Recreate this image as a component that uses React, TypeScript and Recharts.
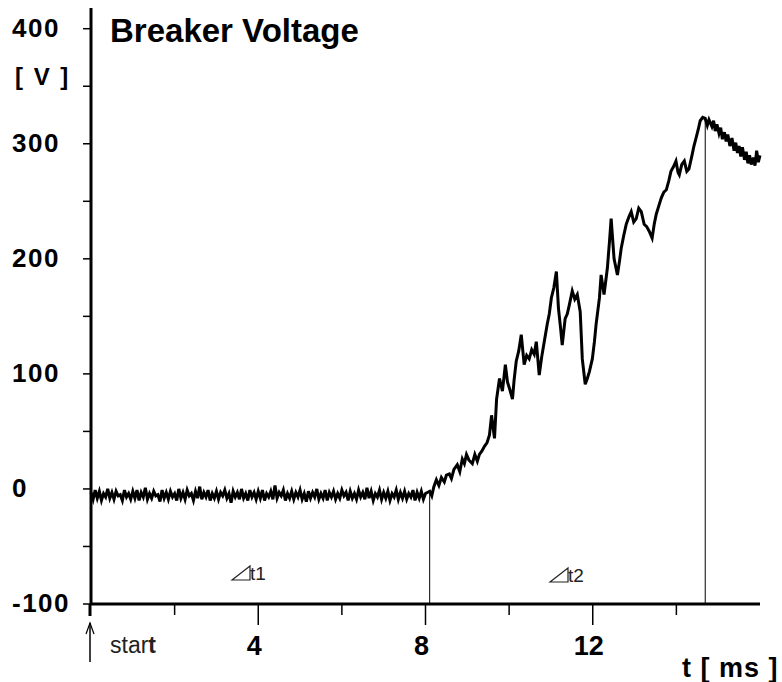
import { LineChart, Line, XAxis, YAxis, ReferenceLine } from 'recharts';

// baseline noise before the breaker opens, one sample every 0.05 ms from t = 0
const flatVolts = [
  -3, -9, -1, -8, -2, -10, -4, -7, 0, -8, -3, -9, -2, -6, -5, -10, -1, -7, -4, -9,
  -2, -8, -1, -10, -3, -7, 1, -9, -4, -8, -2, -6, -5, -11, -1, -8, -3, -9, -2, -7,
  -4, -10, 0, -8, -3, -9, -1, -6, -4, -10, -2, -8, 2, -9, -3, -7, -1, -10, -4, -8,
  -2, -9, -3, -6, -1, -8, -4, -12, -2, -7, -3, -9, 0, -8, -4, -10, -1, -7, -3, -9,
  -2, -8, -1, -10, -4, -7, -2, -9, 3, -8, -3, -6, -1, -10, -4, -8, -2, -9, -3, -7,
  -1, -9, -4, -11, -2, -8, -3, -7, 0, -9, -4, -8, -1, -10, -3, -7, -2, -9, -4, -8,
  -1, -6, -3, -10, -2, -8, -4, -9, -1, -7, -3, -9, 1, -8, -2, -10, -4, -7, -1, -9,
  -3, -8, -2, -10, -4, -7, -1, -9, -3, -8, -2, -9, -4, -7, -1, -10, -3, -8, -2, -9,
  -4,
];

// rising part of the trace: [t ms, volts]
const riseTrace: [number, number][] = [
  [8.1, -2], [8.15, -6], [8.2, 2], [8.26, 8], [8.32, 3], [8.38, 10], [8.45, 6], [8.5, 12],
  [8.57, 13], [8.62, 9], [8.68, 17], [8.76, 21], [8.82, 15], [8.88, 26], [8.93, 22], [8.98, 30],
  [9.04, 25], [9.12, 22], [9.18, 30], [9.24, 24], [9.29, 30], [9.35, 33], [9.41, 37], [9.47, 40],
  [9.53, 47], [9.58, 64], [9.65, 44], [9.7, 78], [9.77, 96], [9.84, 85], [9.91, 108], [9.96, 93],
  [10.02, 86], [10.08, 78], [10.12, 95], [10.17, 111], [10.23, 120], [10.29, 134], [10.36, 108],
  [10.42, 116], [10.48, 113], [10.54, 121], [10.6, 117], [10.65, 128], [10.72, 99], [10.78, 115],
  [10.84, 128], [10.91, 143], [10.96, 152], [11.01, 166], [11.07, 175], [11.13, 189], [11.18, 157],
  [11.23, 140], [11.27, 125], [11.34, 148], [11.39, 152], [11.44, 160], [11.51, 172], [11.57, 165],
  [11.63, 169], [11.7, 154], [11.75, 113], [11.82, 91], [11.87, 96], [11.92, 102], [11.99, 113],
  [12.04, 128], [12.08, 143], [12.16, 166], [12.2, 186], [12.27, 169], [12.35, 192], [12.4, 215],
  [12.44, 235], [12.51, 200], [12.59, 186], [12.64, 198], [12.68, 209], [12.74, 220], [12.8, 230],
  [12.86, 236], [12.92, 241], [12.98, 232], [13.04, 235], [13.1, 244], [13.16, 241], [13.23, 230],
  [13.29, 228], [13.35, 224], [13.42, 218], [13.47, 230], [13.52, 239], [13.58, 246], [13.64, 253],
  [13.7, 258], [13.76, 260], [13.82, 268], [13.87, 276], [13.93, 280], [13.99, 285], [14.04, 275],
  [14.07, 273], [14.13, 282], [14.19, 285], [14.25, 276], [14.3, 278], [14.38, 291], [14.42, 298],
  [14.47, 305], [14.52, 312], [14.57, 320], [14.63, 323], [14.69, 322], [14.74, 316], [14.78, 321],
  [14.85, 315], [14.89, 320], [14.93, 311], [14.97, 317], [15.02, 309], [15.06, 314], [15.1, 304],
  [15.15, 310], [15.19, 302], [15.23, 308], [15.28, 298], [15.33, 305], [15.38, 294], [15.42, 301],
  [15.46, 292], [15.5, 298], [15.54, 289], [15.58, 297], [15.63, 286], [15.67, 293], [15.71, 283],
  [15.75, 290], [15.79, 282], [15.84, 288], [15.88, 281], [15.92, 294], [15.96, 284], [16.0, 290],
];

const yTicks = [-100, -50, 0, 50, 100, 150, 200, 250, 300, 350, 400];
const yLabels = [-100, 0, 100, 200, 300, 400];
const xTicks = [2, 4, 6, 8, 10, 12, 14];
const xLabels = [4, 8, 12];
const cursors = [
  { t: 8.1, v: -2 },
  { t: 14.69, v: 322 },
];

const data = [
  ...flatVolts.map((v, i) => ({ t: i / 20, v })),
  ...riseTrace.map(([t, v]) => ({ t, v })),
];

const FONT = 'Arial, "Liberation Sans", sans-serif';

function YTick({ x, y, payload }: any) {
  const v = payload.value;
  return (
    <g>
      <line x1={x - 8} x2={x} y1={y} y2={y} stroke="#000" strokeWidth={1.5} />
      {yLabels.includes(v) && (
        <text x={12} y={y - 1} dominantBaseline="central" fontFamily={FONT} fontWeight="bold" fontSize={26} letterSpacing={1.5} fill="#000">
          {v}
        </text>
      )}
    </g>
  );
}

function XTick({ x, y, payload }: any) {
  const major = xLabels.includes(payload.value);
  return (
    <g>
      <line x1={x} x2={x} y1={y} y2={y + (major ? 21 : 11)} stroke="#000" strokeWidth={1.5} />
      {major && (
        <text x={x - 4} y={y + 42} textAnchor="middle" dominantBaseline="central" fontFamily={FONT} fontWeight="bold" fontSize={27} fill="#000">
          {payload.value}
        </text>
      )}
    </g>
  );
}

export default function App() {
  return (
    <div style={{ position: 'relative', width: 782, height: 682, background: '#fff' }}>
      <style>{'body{margin:0}'}</style>
      <LineChart width={782} height={682} data={data} margin={{ top: 8, right: 22, left: 0, bottom: 0 }}>
        <XAxis
          dataKey="t"
          type="number"
          domain={[0, 16]}
          ticks={xTicks}
          height={78}
          tickSize={0}
          tickMargin={0}
          tick={<XTick />}
          axisLine={{ stroke: '#000', strokeWidth: 3 }}
          interval={0}
        />
        <YAxis
          type="number"
          domain={[-100, 418]}
          ticks={yTicks}
          width={91}
          tickSize={0}
          tickMargin={0}
          tick={<YTick />}
          axisLine={{ stroke: '#000', strokeWidth: 3 }}
          interval={0}
        />
        {cursors.map((c) => (
          <ReferenceLine
            key={c.t}
            segment={[{ x: c.t, y: c.v }, { x: c.t, y: -100 }]}
            stroke="#000"
            strokeWidth={1}
          />
        ))}
        <Line type="linear" dataKey="v" stroke="#000" strokeWidth={3} dot={false} isAnimationActive={false} />
      </LineChart>
      <svg width={782} height={682} style={{ position: 'absolute', left: 0, top: 0, pointerEvents: 'none' }}>
        <text x={110} y={42} fontFamily={FONT} fontWeight="bold" fontSize={33} fill="#000">Breaker Voltage</text>
        <text x={15} y={85} fontFamily={FONT} fontWeight="bold" fontSize={24} letterSpacing={2} fill="#000">[ V ]</text>
        <text x={682} y={677} fontFamily={FONT} fontWeight="bold" fontSize={27} letterSpacing={1} fill="#000">t [ ms ]</text>
        <line x1={90} x2={90} y1={604} y2={616} stroke="#000" strokeWidth={3} />
        <line x1={90} x2={90} y1={623} y2={662} stroke="#000" strokeWidth={1.5} />
        <polyline points="86,634 90,623 94,634" fill="none" stroke="#000" strokeWidth={1.2} />
        <text x={110} y={653} fontFamily={FONT} fontSize={23} fill="#222">
          star<tspan fontWeight="bold">t</tspan>
        </text>
        <path d="M232,580 L250,566 L250,580 Z" fill="none" stroke="#222" strokeWidth={1.2} />
        <text x={250} y={580} fontFamily={FONT} fontSize={19} fill="#222">t1</text>
        <path d="M550,582 L568,568 L568,582 Z" fill="none" stroke="#222" strokeWidth={1.2} />
        <text x={568} y={582} fontFamily={FONT} fontSize={19} fill="#222">t2</text>
      </svg>
    </div>
  );
}
